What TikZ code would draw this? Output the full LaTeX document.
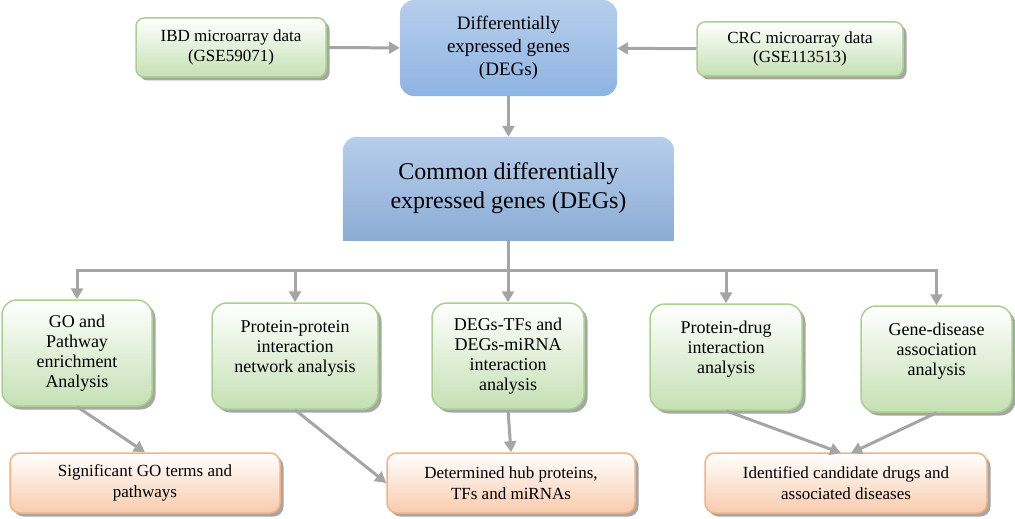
\documentclass[tikz,border=0pt]{standalone}
\usepackage{fontspec}
\setmainfont{Liberation Serif}
\usetikzlibrary{arrows.meta,shadows,backgrounds}

\definecolor{greenfill}{RGB}{197,224,180}
\definecolor{greenline}{RGB}{169,209,142}
\definecolor{orangefill}{RGB}{248,203,173}
\definecolor{orangeline}{RGB}{244,177,131}
\definecolor{bluetop}{RGB}{183,206,236}
\definecolor{bluebot}{RGB}{143,180,226}
\definecolor{arrowgray}{RGB}{165,165,165}

\begin{document}
\begin{tikzpicture}[x=1pt,y=-1pt,
    >={Triangle[width=12pt,length=11pt]},
    flow/.style={->,color=arrowgray,line width=3pt},
    shade box/.style={align=center,inner sep=0pt,line width=1.5pt,
        drop shadow={shadow xshift=3.5pt,shadow yshift=-3.5pt,fill=black,opacity=.35}},
    data box/.style={shade box,draw=greenline,top color=white,bottom color=greenfill,
        rounded corners=8pt,font=\fontsize{17}{19.5}\selectfont},
    analysis box/.style={shade box,draw=greenline,top color=white,bottom color=greenfill,
        rounded corners=15pt,minimum height=106pt,font=\fontsize{18}{20}\selectfont},
    result box/.style={shade box,draw=orangeline,top color=white,bottom color=orangefill,
        rounded corners=10pt,minimum height=60pt,font=\fontsize{17}{20.5}\selectfont},
]
\useasboundingbox (0,0) rectangle (1015,519);

\node[data box,minimum width=190pt,minimum height=59pt] (ibd) at (231,47.5)
    {IBD microarray data\\(GSE59071)};
\node[align=center,top color=bluetop,bottom color=bluebot,rounded corners=14pt,
    minimum width=217pt,minimum height=96pt,font=\fontsize{19}{23}\selectfont]
    (degs) at (508.5,48) {Differentially\\expressed genes\\(DEGs)};
\node[data box,minimum width=206pt,minimum height=54pt] (crc) at (800,49)
    {CRC microarray data\\(GSE113513)};
\node[align=center,minimum width=331pt,minimum height=103pt,
    font=\fontsize{24}{29}\selectfont] (common) at (508.5,188.5)
    {Common differentially\\expressed genes (DEGs)};
\begin{scope}[on background layer]
\clip (common.north west) rectangle (common.south east);
\shade[top color=bluetop,bottom color=bluebot!92!black,rounded corners=14pt]
    (common.north west) rectangle ([yshift=-20pt]common.south east);
\end{scope}

\node[analysis box,minimum width=150pt] (go) at (77,353)
    {GO and\\Pathway\\enrichment\\Analysis};
\node[analysis box,minimum width=166pt] (ppi) at (295,356)
    {Protein-protein\\interaction\\network analysis\\[-1pt]\mbox{}};
\node[analysis box,minimum width=152pt] (tfs) at (508,356)
    {DEGs-TFs and\\DEGs-miRNA\\interaction\\analysis};
\node[analysis box,minimum width=152pt] (pd) at (726,357)
    {Protein-drug\\interaction\\analysis\\[-1pt]\mbox{}};
\node[analysis box,minimum width=151pt] (gd) at (936.5,359)
    {Gene-disease\\association\\analysis\\[-1pt]\mbox{}};

\node[result box,minimum width=270pt] (sig) at (145,483)
    {Significant GO terms and\\pathways};
\node[result box,minimum width=248pt] (hub) at (511,483)
    {Determined hub proteins,\\TFs and miRNAs};
\node[result box,minimum width=282pt] (drugs) at (846,483)
    {Identified candidate drugs and\\associated diseases};

\coordinate (bus) at (508.5,270);
\coordinate (drugs left) at (841,453);
\coordinate (drugs right) at (851,453);

\path[flow]
    (ibd) edge (degs)
    (crc) edge (degs)
    (degs) edge (common)
    (go.south) edge (sig.north)
    (ppi.south) edge (hub.west)
    (tfs.south) edge (hub.north)
    (pd.south) edge (drugs left)
    (gd.south) edge (drugs right);
\draw[draw=arrowgray,line width=3pt] (common) -- (bus);
\draw[draw=arrowgray,line width=3pt,line cap=rect] (bus -| go) -- (bus -| gd);
\foreach \n in {go,ppi,tfs,pd,gd}
    \draw[flow] (bus -| \n) -- (\n);
\end{tikzpicture}
\end{document}
